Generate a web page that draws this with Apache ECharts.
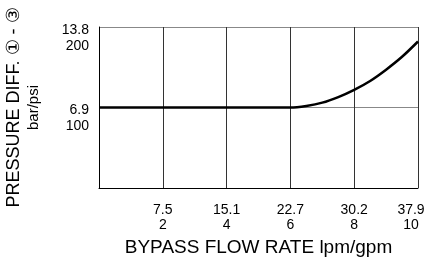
<!DOCTYPE html>
<html><head><meta charset="utf-8">
<script src="https://cdn.jsdelivr.net/npm/echarts@6/dist/echarts.min.js"></script>
<style>html,body{margin:0;padding:0;background:#fff}#c{width:427px;height:257px}</style>
</head><body><div id="c"></div>
<script>
// Data
var flowGpm = [0, 6, 6.5, 7, 7.5, 8, 8.5, 9, 9.5, 10];
var pressurePsi = [100, 100, 102, 106, 113, 122, 133, 147, 163, 182];
var xTickGpm = [2, 4, 6, 8, 10];
var xTickLpm = ['7.5', '15.1', '22.7', '30.2', '37.9'];
var yTickPsi = [100, 200];
var yTickBar = ['6.9', '13.8'];

var FONT = "'Liberation Sans', Arial, sans-serif";
var chart = echarts.init(document.getElementById('c'), null, {renderer: 'canvas'});
chart.setOption({
  animation: false,
  backgroundColor: '#fff',
  grid: {left: 99, right: 9, top: 27, bottom: 69, containLabel: false, outerBoundsMode: 'none'},
  xAxis: {
    type: 'value', min: 0, max: 10, interval: 2,
    name: 'BYPASS FLOW RATE lpm/gpm', nameLocation: 'middle', nameGap: 48,
    nameTextStyle: {fontFamily: FONT, fontSize: 19, color: '#000'},
    axisLine: {show: true, lineStyle: {color: '#000', width: 1}},
    axisTick: {show: false},
    splitLine: {show: true, lineStyle: {color: '#333', width: 1}},
    axisLabel: {
      margin: 15, fontFamily: FONT, fontSize: 14, color: '#000', lineHeight: 15,
      showMinLabel: false,
      rich: {r: {fontFamily: FONT, fontSize: 14, lineHeight: 15, color: '#000', padding: [0, 14, 0, 0]}},
      formatter: function (v) {
        var i = xTickGpm.indexOf(v);
        if (i < 0) return '';
        if (i === xTickGpm.length - 1) return '{r|' + xTickLpm[i] + '}\n{r|' + xTickGpm[i] + '}';
        return xTickLpm[i] + '\n' + xTickGpm[i];
      }
    }
  },
  yAxis: {
    type: 'value', min: 0, max: 200, interval: 100,
    name: '{a|PRESSURE DIFF. \u2460 - \u2462}\n{b|bar/psi}', nameLocation: 'middle', nameGap: 55, nameRotate: 90,
    nameTextStyle: {fontFamily: FONT, color: '#000',
      rich: {a: {fontFamily: FONT, fontSize: 18, lineHeight: 20, color: '#000'},
             b: {fontFamily: FONT, fontSize: 15, lineHeight: 20, color: '#000'}}},
    axisLine: {show: true, lineStyle: {color: '#000', width: 1}},
    axisTick: {show: false},
    splitLine: {show: true, lineStyle: {color: '#888', width: 1}},
    axisLabel: {
      margin: 10, fontFamily: FONT, fontSize: 14, color: '#000', lineHeight: 16, align: 'right',
      showMinLabel: false,
      rich: {s: {fontSize: 14, lineHeight: 22}, t: {fontFamily: FONT, fontSize: 14, lineHeight: 16, color: '#000'}},
      formatter: function (v) {
        var i = yTickPsi.indexOf(v);
        return i < 0 ? '' : '{s| }\n{t|' + yTickBar[i] + '}\n{t|' + yTickPsi[i] + '}';
      }
    }
  },
  series: [{
    type: 'line', smooth: 0.3, symbol: 'none',
    data: flowGpm.map(function (x, i) { return [x, pressurePsi[i]]; }),
    lineStyle: {color: '#000', width: 2.5}
  }]
});
</script></body></html>
